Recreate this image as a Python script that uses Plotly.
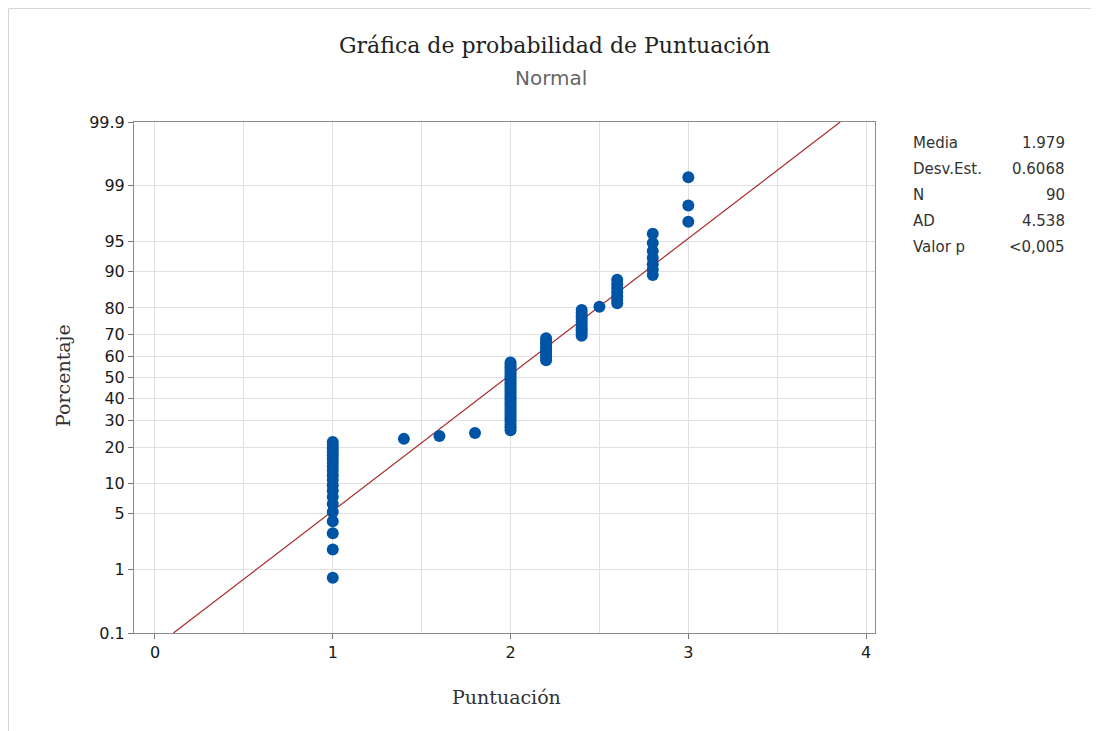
import numpy as np
import plotly.graph_objects as go
from statistics import NormalDist

nd = NormalDist()

# ---- data (Puntuación values and how many times each occurs, N = 90) ----
values = [1.0, 1.4, 1.6, 1.8, 2.0, 2.2, 2.4, 2.5, 2.6, 2.8, 3.0]
counts = [20, 1, 1, 1, 29, 10, 10, 1, 7, 7, 3]

stat_labels = ["Media", "Desv.Est.", "N", "AD", "Valor p"]
stat_values = ["1.979", "0.6068", "90", "4.538", "<0,005"]
mean_fit = 1.979
sd_fit = 0.6068

y_ticks_pct = [0.1, 1, 5, 10, 20, 30, 40, 50, 60, 70, 80, 90, 95, 99, 99.9]
y_tick_text = ["0.1", "1", "5", "10", "20", "30", "40", "50", "60", "70", "80", "90", "95", "99", "99.9"]
x_ticks = [0, 1, 2, 3, 4]

# ---- probability-plot positions (median ranks) ----
xs = np.repeat(values, counts)
n = len(xs)
ranks = np.arange(1, n + 1)
pct = (ranks - 0.3) / (n + 0.4)
zs = [nd.inv_cdf(p) for p in pct]

zlo, zhi = nd.inv_cdf(0.001), nd.inv_cdf(0.999)
fit_x = [mean_fit + zlo * sd_fit, mean_fit + zhi * sd_fit]

# page body has an 8px margin -> size/margins compensate so plot sits where the reference has it
OFF = 8
W, H = 1099 - OFF, 731 - OFF
L, T, R, B = 134 - OFF, 122 - OFF, W - (875 - OFF), H - (633 - OFF)
PW, PH = W - L - R, H - T - B


def px(xs_):
    return (xs_ - 134) / PW


def py(ys_):
    return 1 - (ys_ - 122) / PH


fig = go.Figure()
fig.add_trace(go.Scatter(x=fit_x, y=[zlo, zhi], mode="lines",
                         line=dict(color="#A82B2B", width=1.2), hoverinfo="skip"))
fig.add_trace(go.Scatter(x=xs, y=zs, mode="markers",
                         marker=dict(color="#0054A6", size=12, line=dict(width=0))))

fig.update_layout(
    width=W, height=H,
    margin=dict(l=L, r=R, t=T, b=B),
    paper_bgcolor="white", plot_bgcolor="white",
    showlegend=False,
    font=dict(family="DejaVu Sans", color="#222222", size=15),
)
fig.update_xaxes(range=[-0.118, 4.05], tickvals=x_ticks, ticks="outside", ticklen=5,
                 tickcolor="#777777", showline=True, linecolor="#8c8c8c", mirror=True,
                 showgrid=True, gridcolor="#e0e0e0", zeroline=False,
                 minor=dict(dtick=0.5, showgrid=True, gridcolor="#e0e0e0"),
                 tickfont=dict(size=16, color="#1a1a1a"))
fig.update_yaxes(range=[zlo, zhi], tickvals=[nd.inv_cdf(p / 100) for p in y_ticks_pct],
                 ticktext=y_tick_text, ticks="outside", ticklen=5, tickcolor="#777777",
                 showline=True, linecolor="#8c8c8c", mirror=True,
                 showgrid=True, gridcolor="#e0e0e0", zeroline=False,
                 tickfont=dict(size=16, color="#1a1a1a"))

# title, subtitle, axis titles
fig.add_annotation(text="Gráfica de probabilidad de Puntuación", xref="paper", yref="paper",
                   x=px(554), y=py(45), showarrow=False, xanchor="center", yanchor="middle",
                   font=dict(family="DejaVu Serif", size=22, color="#222222"))
fig.add_annotation(text="Normal", xref="paper", yref="paper", x=px(551), y=py(78),
                   showarrow=False, xanchor="center", yanchor="middle",
                   font=dict(family="DejaVu Sans", size=20, color="#666666"))
fig.add_annotation(text="Puntuación", xref="paper", yref="paper", x=px(506), y=py(697),
                   showarrow=False, xanchor="center", yanchor="middle",
                   font=dict(family="DejaVu Serif", size=19, color="#333333"))
fig.add_annotation(text="Porcentaje", xref="paper", yref="paper", x=px(63), y=py(376),
                   showarrow=False, xanchor="center", yanchor="middle", textangle=-90,
                   font=dict(family="DejaVu Serif", size=19, color="#333333"))

# statistics table
for k, (lab, val) in enumerate(zip(stat_labels, stat_values)):
    yp = py(143 + 26 * k)
    fig.add_annotation(text=lab, xref="paper", yref="paper", x=px(911), y=yp,
                       xanchor="left", yanchor="middle", showarrow=False,
                       font=dict(size=15, color="#333333"))
    fig.add_annotation(text=val, xref="paper", yref="paper", x=px(1067), y=yp,
                       xanchor="right", yanchor="middle", showarrow=False,
                       font=dict(size=15, color="#333333"))

# light outer frame (left and top edges)
fig.add_shape(type="line", xref="paper", yref="paper", x0=px(8.5), x1=px(8.5),
              y0=py(731), y1=py(8.5), line=dict(color="#d6d6d6", width=1))
fig.add_shape(type="line", xref="paper", yref="paper", x0=px(8.5), x1=px(1099),
              y0=py(8.5), y1=py(8.5), line=dict(color="#d6d6d6", width=1))

fig.write_html("out.html")
